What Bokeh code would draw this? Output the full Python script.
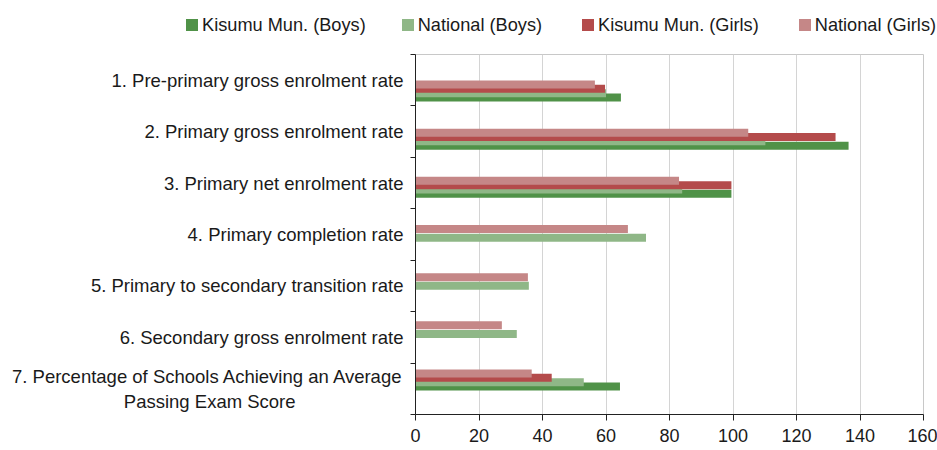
from bokeh.plotting import figure
from bokeh.layouts import column
from bokeh.models import ColumnDataSource, Range1d, FixedTicker, Div
from bokeh.embed import file_html
from bokeh.resources import INLINE

NBSP = "\u00a0"
categories = [
    "1. Pre-primary gross enrolment rate",
    "2. Primary gross enrolment rate",
    "3. Primary net enrolment rate",
    "4. Primary completion rate",
    "5. Primary to secondary transition rate",
    "6. Secondary gross enrolment rate",
    "7. Percentage of Schools Achieving an Average\nPassing Exam Score" + NBSP * 21,
]
series_names = ["Kisumu Mun. (Boys)", "National (Boys)", "Kisumu Mun. (Girls)", "National (Girls)"]
kisumu_boys = [64.7, 136.4, 99.5, None, None, None, 64.4]
national_boys = [60.0, 110.2, 84.0, 72.6, 35.7, 31.9, 53.0]
kisumu_girls = [59.7, 132.3, 99.5, None, None, None, 42.9]
national_girls = [56.5, 104.8, 83.0, 66.9, 35.4, 27.2, 36.6]
x_ticks = [0, 20, 40, 60, 80, 100, 120, 140, 160]

colors = ["#509248", "#8FB787", "#B44B4B", "#C58787"]
series_vals = [kisumu_boys, national_boys, kisumu_girls, national_girls]
# slot within cluster: top = National Girls, bottom = Kisumu Boys
slots = [3, 2, 1, 0]

FONT = "Liberation Sans"
TXT = "#1a1a1a"

# ---- legend strip ----
legend_gaps = [36, 40, 40, 0]
parts = []
for name, col, gap in zip(series_names, colors, legend_gaps):
    parts.append(
        f'<span style="display:inline-block;width:12px;height:12px;background:{col};'
        f'margin-right:4px;flex:none"></span>'
        f'<span style="margin-right:{gap}px;flex:none">{name}</span>'
    )
legend_html = (
    '<div style="display:flex;align-items:center;box-sizing:border-box;width:937px;'
    'height:40px;padding:9px 0 0 186px;font-family:\'Liberation Sans\',Arial,sans-serif;'
    f'font-size:18.2px;color:{TXT};white-space:nowrap;line-height:22px;overflow:visible">'
    + "".join(parts) + "</div>"
)
legend_div = Div(text=legend_html, width=937, height=40, margin=(0, 0, 0, 0))

# ---- main chart ----
p = figure(width=937, height=410, output_backend="svg", toolbar_location=None,
           x_range=Range1d(0, 160), y_range=Range1d(7, 0),
           min_border_left=415, min_border_right=14, min_border_top=14, min_border_bottom=36)
p.outline_line_color = "#C8C8C8"
p.background_fill_color = "white"
p.border_fill_color = "white"

CL0, PITCH, D, H = 0.7097, 0.9366, 0.0843, 0.1556

for name, vals, col, k in zip(series_names, series_vals, colors, slots):
    ys, xs = [], []
    for i, v in enumerate(vals):
        if v is None:
            continue
        ys.append(CL0 + PITCH * i + (k - 1.5) * D)
        xs.append(v)
    src = ColumnDataSource(dict(y=ys, right=xs))
    p.hbar(y="y", left=0, right="right", height=H, source=src,
           fill_color=col, line_color=None)

xa = p.xaxis[0]
xa.ticker = FixedTicker(ticks=x_ticks)
xa.axis_line_color = "#222222"
xa.major_tick_line_color = "#222222"
xa.major_tick_out = 6
xa.major_tick_in = 0
xa.minor_tick_line_color = None
xa.major_label_standoff = 8
xa.major_label_text_font = FONT
xa.major_label_text_font_size = "18px"
xa.major_label_text_color = TXT

ya = p.yaxis[0]
ya.ticker = FixedTicker(ticks=[i + 0.5 for i in range(len(categories))],
                        minor_ticks=list(range(len(categories) + 1)))
ya.major_label_overrides = {i + 0.5: c for i, c in enumerate(categories)}
ya.axis_line_color = "#222222"
ya.major_tick_line_color = None
ya.major_tick_out = 0
ya.major_tick_in = 0
ya.minor_tick_line_color = "#222222"
ya.minor_tick_out = 5
ya.minor_tick_in = 0
ya.major_label_standoff = 7
ya.major_label_text_font = FONT
ya.major_label_text_font_size = "18.5px"
ya.major_label_text_color = TXT

p.xgrid.ticker = FixedTicker(ticks=x_ticks)
p.xgrid.grid_line_color = "#D4D4D4"
p.ygrid.grid_line_color = None

layout = column(legend_div, p, spacing=0)
open("out.html", "w").write(file_html(layout, INLINE))
